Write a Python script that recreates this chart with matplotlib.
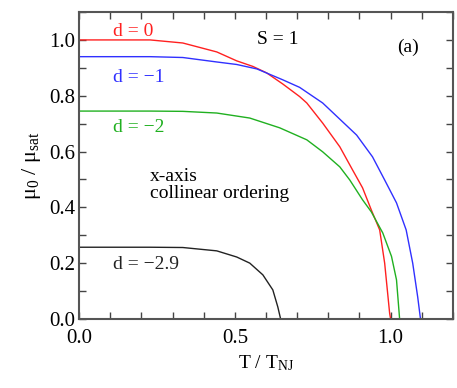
import numpy as np
import matplotlib
matplotlib.use("Agg")
import matplotlib.pyplot as plt
from matplotlib.ticker import MultipleLocator, FormatStrFormatter

plt.rcParams["font.family"] = ["Liberation Serif", "DejaVu Serif"]
plt.rcParams["mathtext.fontset"] = "custom"
plt.rcParams["mathtext.rm"] = "Liberation Serif"
plt.rcParams["mathtext.it"] = "Liberation Serif:italic"

# ---- data (T/T_NJ, mu0/mu_sat) ----
t_d0 = [0.0, 0.228, 0.333, 0.442, 0.506, 0.558, 0.602, 0.654, 0.708, 0.731, 0.782,
        0.837, 0.878, 0.91, 0.938, 0.965, 0.981, 0.997, 1.0]
m_d0 = [1.0, 1.0, 0.989, 0.957, 0.925, 0.905, 0.882, 0.842, 0.797, 0.774, 0.702,
        0.617, 0.534, 0.47, 0.391, 0.319, 0.2, 0.02, 0.0]

t_d1 = [0.0, 0.228, 0.333, 0.442, 0.506, 0.571, 0.654, 0.708, 0.782, 0.891, 0.942,
        0.981, 1.019, 1.05, 1.071, 1.087, 1.096]
m_d1 = [0.94, 0.94, 0.937, 0.921, 0.912, 0.896, 0.857, 0.83, 0.774, 0.659, 0.581,
        0.498, 0.416, 0.319, 0.2, 0.079, 0.0]

t_d2 = [0.0, 0.228, 0.333, 0.442, 0.548, 0.644, 0.731, 0.782, 0.837, 0.869, 0.91,
        0.938, 0.975, 1.003, 1.019, 1.029]
m_d2 = [0.745, 0.745, 0.744, 0.738, 0.720, 0.685, 0.642, 0.599, 0.545, 0.498, 0.427,
        0.384, 0.308, 0.224, 0.14, 0.0]

t_d29 = [0.0, 0.228, 0.333, 0.442, 0.506, 0.548, 0.59, 0.622, 0.638, 0.647]
m_d29 = [0.257, 0.257, 0.256, 0.244, 0.222, 0.2, 0.158, 0.104, 0.043, 0.0]

fig = plt.figure(figsize=(4.57, 3.88), dpi=100)
ax = fig.add_axes([0.173, 0.178, 0.818, 0.791])

ax.plot(t_d0, m_d0, color="#ff2020", lw=1.0)
ax.plot(t_d1, m_d1, color="#3030ff", lw=1.0)
ax.plot(t_d2, m_d2, color="#20b020", lw=1.0)
ax.plot(t_d29, m_d29, color="#222222", lw=1.0)

ax.set_xlim(0, 1.2)
ax.set_ylim(0, 1.1)
ax.xaxis.set_major_locator(MultipleLocator(0.5))
ax.xaxis.set_minor_locator(MultipleLocator(0.1))
ax.yaxis.set_major_locator(MultipleLocator(0.2))
ax.yaxis.set_minor_locator(MultipleLocator(0.1))
ax.xaxis.set_major_formatter(FormatStrFormatter("%.1f"))
ax.yaxis.set_major_formatter(FormatStrFormatter("%.1f"))
ax.tick_params(which="both", direction="in", top=True, right=True,
               color="#444444", labelsize=15, pad=3, length=5, width=1)
ax.tick_params(axis="x", which="both", pad=7)
for s in ax.spines.values():
    s.set_color("#555555")
    s.set_linewidth(1.5)

ax.set_xlabel("T / T$_\\mathrm{NJ}$", fontsize=14, labelpad=4)
ax.set_ylabel("\u03bc$_0$ / \u03bc$_\\mathrm{sat}$", fontsize=16, labelpad=4)

fs = 14
ax.text(0.11, 1.03, "d = 0", color="#ff2020", fontsize=fs, va="center")
ax.text(0.11, 0.864, "d = \u22121", color="#3030ff", fontsize=fs, va="center")
ax.text(0.11, 0.685, "d = \u22122", color="#20b020", fontsize=fs, va="center")
ax.text(0.11, 0.195, "d = \u22122.9", color="#222222", fontsize=fs, va="center")
ax.text(0.57, 1.0, "S = 1", fontsize=fs, va="center")
ax.text(1.02, 0.975, "(a)", fontsize=fs, va="center")
ax.text(0.228, 0.48, "x-axis\ncollinear ordering", fontsize=fs, va="center",
        linespacing=0.95)

fig.savefig("out.png", dpi=100)
